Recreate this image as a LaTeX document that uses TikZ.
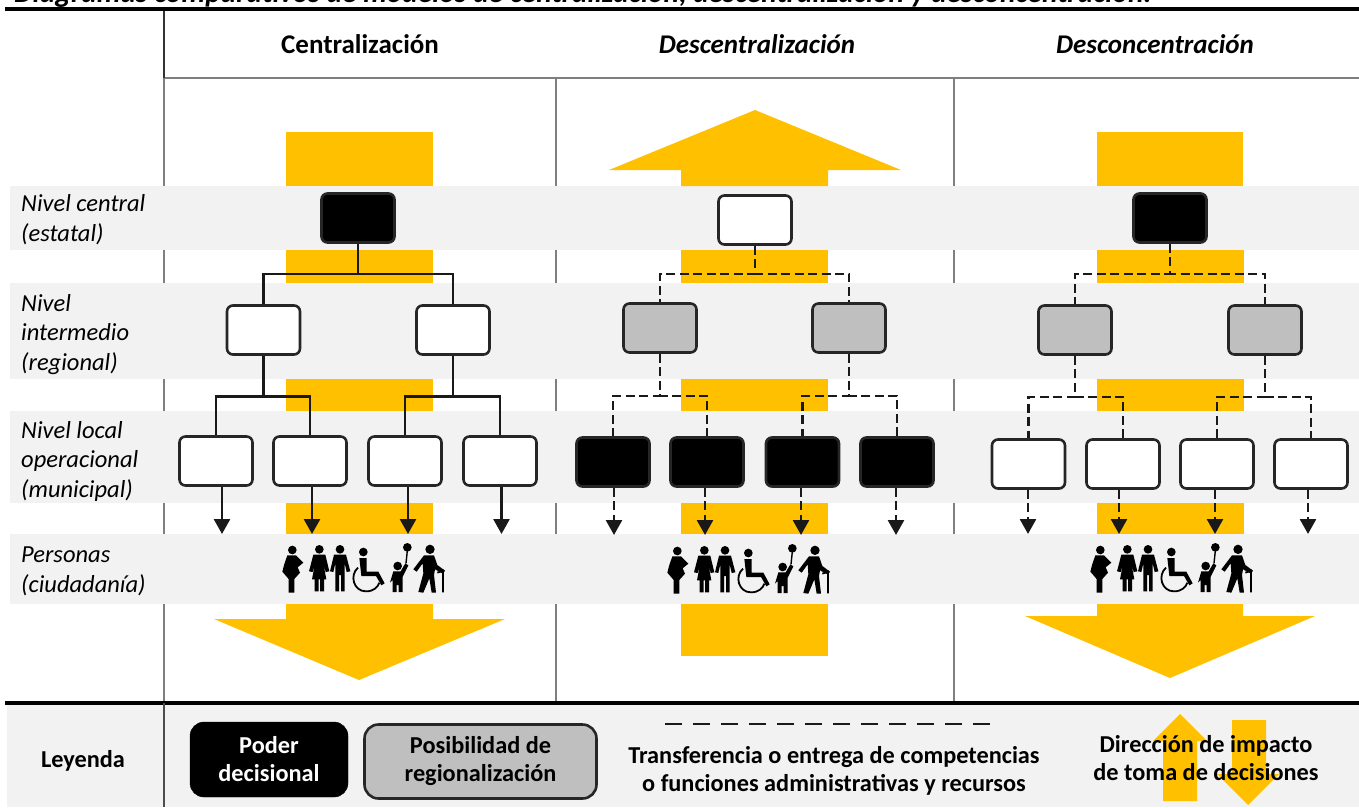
\documentclass[tikz,border=0pt]{standalone}
\usepackage{fontspec}
\setmainfont{Carlito}
\usetikzlibrary{arrows.meta}
\definecolor{amarillo}{HTML}{FFC000}
\definecolor{banda}{HTML}{F2F2F2}
\definecolor{gris}{HTML}{BFBFBF}
\definecolor{raya}{HTML}{7F7F7F}
\tikzset{
    caja/.style={draw=black!85,line width=2.6pt,rounded corners=6pt,minimum width=73pt,minimum height=49pt,inner sep=0pt},
    link/.style={draw=black!90,line width=2.6pt},
    trans/.style={link,dash pattern=on 9pt off 4.5pt},
    flecha/.style={-{Triangle[width=16pt,length=15pt]}},
    nivel/.style={align=left,anchor=north west,inner sep=0pt,font=\fontsize{24.5}{29.5}\selectfont\itshape},
    cabeza/.style={font=\fontsize{27}{30}\selectfont\bfseries},
    ley/.style={align=center,font=\fontsize{24.3}{28}\selectfont\bfseries},
    personas/.pic={
        % embarazada
        \fill (97,60) circle (13);
        \fill (82,76) -- (108,76) -- (130,98) -- (113,112) -- (120,128) -- (103,147) -- (103,188) -- (86,188) -- (86,147) -- (67,125) -- (72,105) -- cycle;
        % mujer
        \fill (178,58) circle (13);
        \fill (160,74) -- (196,74) -- (208,124) -- (197,126) -- (190,100) -- (199,148) -- (192,148) -- (192,184) -- (180,184) -- (180,148) -- (176,148) -- (176,184) -- (164,184) -- (164,148) -- (156,148) -- (165,100) -- (158,126) -- (147,124) -- cycle;
        % hombre
        \fill (240,58) circle (13);
        \fill (222,74) -- (258,74) -- (271,124) -- (260,126) -- (254,100) -- (254,184) -- (243,184) -- (243,135) -- (237,135) -- (237,184) -- (226,184) -- (226,100) -- (220,126) -- (210,124) -- cycle;
        % silla de ruedas
        \fill (310,66) circle (13);
        \fill (298,84) -- (320,84) -- (320,125) -- (355,125) -- (374,160) -- (364,166) -- (348,138) -- (304,138) -- cycle;
        \draw[line width=1.8pt] (294,113) .. controls (268,135) and (280,184) .. (318,184) .. controls (340,184) and (354,172) .. (358,158);
        % nino con globo
        \fill (413,108) circle (13);
        \fill (442,52) circle (13);
        \draw[line width=1.4pt] (442,62) -- (438,100);
        \fill (400,124) -- (422,124) -- (436,100) -- (445,106) -- (428,140) -- (428,186) -- (416,186) -- (416,165) -- (410,165) -- (410,186) -- (398,186) -- (398,150) -- (390,158) -- cycle;
        % anciano
        \fill (510,58) circle (14);
        \fill (492,76) -- (522,76) -- (532,105) -- (555,122) -- (549,131) -- (525,118) -- (522,135) -- (528,188) -- (515,188) -- (508,145) -- (490,188) -- (475,186) -- (490,130) -- (488,100) -- (470,125) -- (460,118) -- cycle;
        \draw[line width=1.8pt] (532,128) -- (549,122) -- (549,187);
    }
}
\begin{document}
\begin{tikzpicture}[x=1pt,y=-1pt]
    \useasboundingbox (0,0) rectangle (1359,807);
    % titulo cortado arriba
    \node[anchor=base west,inner sep=0pt,font=\fontsize{29.4}{32}\selectfont\bfseries\itshape] (titulo) at (14,2) {Diagramas comparativos de modelos de centralización, descentralización y desconcentración.};
    % lineas de la tabla
    \draw[raya,line width=1.4pt] (164,78) -- (1359,78);
    \draw[black!80,line width=1.4pt] (164,10) -- (164,78);
    \foreach \x in {164,556,954} {
        \draw[raya,line width=1.4pt] (\x,78) -- (\x,703);
    }
    % bandas
    \foreach \a/\b in {186/250,283/379,411/503,534/604} {
        \fill[banda] (10,\a) rectangle (1359,\b);
    }
    \fill[banda] (7,705) rectangle (1359,807);
    \draw[black,line width=4pt] (5,9) -- (1359,9);
    \draw[black,line width=3.5pt] (5,703) -- (1359,703);
    \draw[black!70,line width=1.4pt] (164,703) -- (164,807);
    % franjas amarillas
    \foreach \x in {286,681,1097} {
        \foreach \a/\b in {250/283,379/411,503/534} {
            \fill[amarillo] (\x,\a) rectangle (\x+147,\b);
        }
    }
    \fill[amarillo] (286,132) rectangle (433,186);
    \fill[amarillo] (1097,132) rectangle (1243,186);
    \fill[amarillo] (681,604) rectangle (828,656);
    \fill[amarillo] (681,186) -- (681,170) -- (609,170) -- (755,110) -- (901,170) -- (828,170) -- (828,186) -- cycle;
    \fill[amarillo] (286,604) -- (286,619) -- (214,619) -- (359,680) -- (505,619) -- (433,619) -- (433,604) -- cycle;
    \fill[amarillo] (1097,604) -- (1097,616) -- (1025,616) -- (1170,678) -- (1315,616) -- (1243,616) -- (1243,604) -- cycle;
    % puntas de las flechas
    \foreach \x/\y/\name in {222/534/t1,312/534/t2,408/534/t3,501.5/534/t4,614/535/t5,705/535/t6,801/535/t7,896/535/t8,1028/534/t9,1119/534/t10,1215/534/t11,1308/534/t12} {
        \coordinate (\name) at (\x,\y);
    }
    % cajas
    \foreach \x/\y/\name/\tono in {358/218/c1/black,263.5/330/i1/white,453/330/i2/white,216/461/l1/white,310/461/l2/white,405/461/l3/white,500/461/l4/white,
        755/220/c2/white,660/328/i3/gris,849/328/i4/gris,613/462/l5/black,707/462/l6/black,802.5/462/l7/black,897/462/l8/black,
        1170/218/c3/black,1075/330/i5/gris,1265/330/i6/gris,1028.5/464/l9/white,1123/464/l10/white,1217/464/l11/white,1311/464/l12/white} {
        \node[caja,fill=\tono,name=\name] at (\x,\y) {};
    }
    % enlaces
    \foreach \from/\to/\baja in {c1/i1/30,c1/i2/30,i1/l1/40.5,i1/l2/40.5,i2/l3/40.5,i2/l4/40.5} {
        \draw[link] (\from.south) -- ++(0,\baja) -| (\to.north);
    }
    \foreach \from/\to/\baja in {c2/i3/28,c2/i4/28,i3/l5/42,i3/l6/42,i4/l7/42,i4/l8/42,c3/i5/30,c3/i6/30,i5/l9/41,i5/l10/41,i6/l11/41,i6/l12/41} {
        \draw[trans] (\from.south) -- ++(0,\baja) -| (\to.north);
    }
    \foreach \from/\to in {l1/t1,l2/t2,l3/t3,l4/t4} {
        \draw[link,flecha] (\to |- \from.south) -- (\to);
    }
    \foreach \from/\to in {l5/t5,l6/t6,l7/t7,l8/t8,l9/t9,l10/t10,l11/t11,l12/t12} {
        \draw[trans,flecha] (\to |- \from.south) -- (\to);
    }
    % personas
    \foreach \x/\y/\name in {260/530/p1,645/531/p2,1068/530/p3} {
        \pic[scale=1/3] (\name) at (\x,\y) {personas};
    }
    % textos
    \node[cabeza] (col1) at (360,44) {Centralización};
    \node[cabeza,font=\fontsize{27}{30}\selectfont\bfseries\itshape] (col2) at (757,44) {Descentralización};
    \node[cabeza,font=\fontsize{27}{30}\selectfont\bfseries\itshape] (col3) at (1155,44) {Desconcentración};
    \node[nivel] (n1) at (21,194) {Nivel central\\[1pt](estatal)};
    \node[nivel] (n2) at (21,294) {Nivel\\intermedio\\(regional)};
    \node[nivel] (n3) at (21,421) {Nivel local\\operacional\\(municipal)};
    \node[nivel] (n4) at (21,547) {Personas\\(ciudadanía)};
    % leyenda
    \node[ley] (leyenda) at (83,761) {Leyenda};
    \node[rounded corners=14pt,fill=black,draw=black,minimum width=158pt,minimum height=75pt,inner sep=0pt,ley,text=white] (poder) at (269,759.5) {Poder\\decisional};
    \node[rounded corners=14pt,fill=gris,draw=black!85,line width=2.6pt,minimum width=232pt,minimum height=74pt,inner sep=0pt,ley] (posib) at (480.5,761.5) {Posibilidad de\\regionalización};
    \coordinate (r1) at (665,724);
    \coordinate (r2) at (993,724);
    \draw[black!90,line width=2.8pt,dash pattern=on 17pt off 11pt] (r1) -- (r2);
    \node[ley] (transf) at (834,771) {Transferencia o entrega de competencias\\o funciones administrativas y recursos};
    \fill[amarillo] (1163,801) -- (1163,741) -- (1153,741) -- (1180,714) -- (1207,741) -- (1197,741) -- (1197,801) -- cycle;
    \fill[amarillo] (1232,720) -- (1232,774) -- (1217,774) -- (1248,805) -- (1279,774) -- (1266,774) -- (1266,720) -- cycle;
    \node[ley] (direc) at (1206,758) {Dirección de impacto\\de toma de decisiones};
\end{tikzpicture}
\end{document}
